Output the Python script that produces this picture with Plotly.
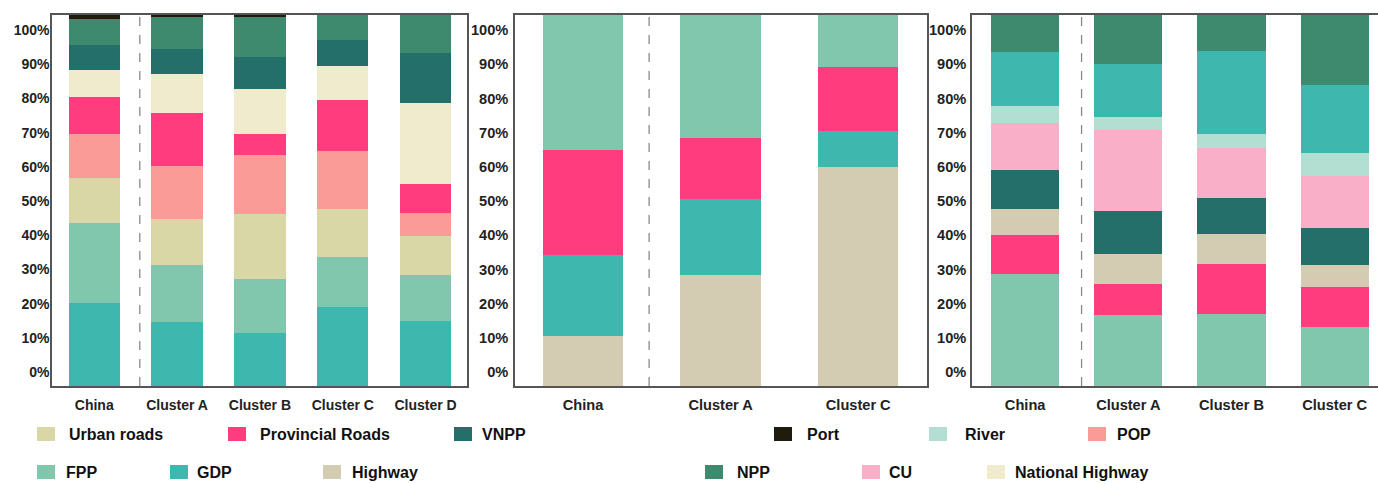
import plotly.graph_objects as go

# ---------------- data ----------------
p1_categories = ["China", "Cluster A", "Cluster B", "Cluster C", "Cluster D"]
p1_gdp = [22.3, 17.3, 14.4, 21.4, 17.5]
p1_fpp = [21.7, 15.2, 14.5, 13.4, 12.5]
p1_urban_roads = [12.2, 12.6, 17.5, 12.8, 10.5]
p1_pop = [11.8, 14.3, 15.8, 15.7, 6.1]
p1_provincial_roads = [9.8, 14.2, 5.8, 13.8, 7.8]
p1_national_highway = [7.3, 10.5, 12.0, 9.2, 21.8]
p1_vnpp = [6.7, 6.8, 8.7, 6.9, 13.5]
p1_npp = [7.2, 8.5, 10.9, 6.8, 10.3]
p1_port = [1.0, 0.6, 0.4, 0.0, 0.0]

p2_categories = ["China", "Cluster A", "Cluster C"]
p2_highway = [13.6, 30.0, 59.1]
p2_gdp = [21.7, 20.4, 9.6]
p2_provincial_roads = [28.3, 16.4, 17.3]
p2_fpp = [36.4, 33.2, 14.0]

p3_categories = ["China", "Cluster A", "Cluster B", "Cluster C"]
p3_fpp = [30.3, 19.2, 19.5, 16.0]
p3_provincial_roads = [10.5, 8.4, 13.4, 10.8]
p3_highway = [7.0, 7.9, 8.0, 5.8]
p3_vnpp = [10.4, 11.8, 9.8, 10.1]
p3_cu = [12.7, 21.6, 13.5, 13.8]
p3_river = [4.5, 3.5, 3.6, 6.3]
p3_gdp = [14.7, 14.4, 22.6, 18.3]
p3_npp = [9.9, 13.2, 9.6, 18.9]

tick_labels = ["0%", "10%", "20%", "30%", "40%", "50%", "60%", "70%", "80%", "90%", "100%"]

legend_row1 = ["Urban roads", "Provincial Roads", "VNPP", "Port", "River", "POP"]
legend_row2 = ["FPP", "GDP", "Highway", "NPP", "CU", "National Highway"]

colors = {
    "Urban roads": "#D9D7A5",
    "Provincial Roads": "#FF3C7D",
    "VNPP": "#246F69",
    "Port": "#1F1B0D",
    "River": "#B2DFD1",
    "POP": "#FA9B98",
    "FPP": "#80C7AE",
    "GDP": "#3EB8AF",
    "Highway": "#D4CBB3",
    "NPP": "#3E8A6F",
    "CU": "#FAAFC9",
    "National Highway": "#EFEBCC",
}

panels = [
    dict(cats=p1_categories, series=[
        ("GDP", p1_gdp), ("FPP", p1_fpp), ("Urban roads", p1_urban_roads), ("POP", p1_pop),
        ("Provincial Roads", p1_provincial_roads), ("National Highway", p1_national_highway),
        ("VNPP", p1_vnpp), ("NPP", p1_npp), ("Port", p1_port)],
        width=0.62, xrange=[-0.51, 4.5], dash_x=0.55, fs=14, dom=[52, 467], ystand=-2),
    dict(cats=p2_categories, series=[
        ("Highway", p2_highway), ("GDP", p2_gdp), ("Provincial Roads", p2_provincial_roads), ("FPP", p2_fpp)],
        width=0.585, xrange=[-0.495, 2.5], dash_x=0.48, fs=14.6, dom=[515, 927], ystand=2),
    dict(cats=p3_categories, series=[
        ("FPP", p3_fpp), ("Provincial Roads", p3_provincial_roads), ("Highway", p3_highway),
        ("VNPP", p3_vnpp), ("CU", p3_cu), ("River", p3_river), ("GDP", p3_gdp), ("NPP", p3_npp)],
        width=0.66, xrange=[-0.515, 3.42], dash_x=0.547, fs=14.6, dom=[972, 1378], ystand=1),
]

W, H = 1378, 483
plot_top, plot_bottom = 15, 386
ydom = [1 - plot_bottom / H, 1 - plot_top / H]
# label positions as drawn in the source figure (slightly offset from bar scale)
lab0_px, lab_step_px = 372.0, 34.2
tickvals = [(plot_bottom - (lab0_px - lab_step_px * k)) / (plot_bottom - plot_top) * 100 for k in range(len(tick_labels))]

fig = go.Figure()
tick_font_family = "Liberation Sans, Arial, sans-serif"

for i, p in enumerate(panels):
    ax = "" if i == 0 else str(i + 1)
    for name, vals in p["series"]:
        fig.add_trace(go.Bar(
            x=p["cats"], y=vals, name=name, marker=dict(color=colors[name], line=dict(width=0)),
            width=p["width"], xaxis="x" + ax, yaxis="y" + ax, showlegend=False,
            hovertemplate=name + ": %{y:.1f}%<extra></extra>"))
    xdom = [p["dom"][0] / W, min(1.0, p["dom"][1] / W)]
    last = (i == 2)
    fig.update_layout(**{
        "xaxis" + ax: dict(domain=xdom, range=p["xrange"], anchor="y" + ax, showgrid=False,
                           showline=True, mirror=True, linecolor="#555", linewidth=1.5,
                           ticks="", ticklabelstandoff=5,
                           tickfont=dict(family=tick_font_family, size=p["fs"], weight="bold", color="#222"),
                           fixedrange=True),
        "yaxis" + ax: dict(domain=ydom, range=[0, 100], anchor="x" + ax, showgrid=False, zeroline=False,
                           showline=True, mirror=(not last), linecolor="#555", linewidth=1.5,
                           ticks="", tickvals=tickvals, ticktext=tick_labels, ticklabelstandoff=p["ystand"],
                           tickfont=dict(family=tick_font_family, size=p["fs"], weight="bold", color="#222"),
                           fixedrange=True),
    })
    fig.add_shape(type="line", xref="x" + ax, yref="y" + ax + " domain" if ax else "y domain",
                  x0=p["dash_x"], x1=p["dash_x"], y0=0, y1=1,
                  line=dict(color="#8a8a8a", width=1.3, dash="dash"))

# ---------------- manual legend ----------------
row1_swatch_x = [37, 228, 454, 774, 929, 1088]
row1_text_x = [67, 258, 480, 805, 963, 1115]
row2_swatch_x = [37, 170, 323, 705, 862, 987]
row2_text_x = [64, 195, 350, 735, 887, 1013]
rows = [(legend_row1, row1_swatch_x, row1_text_x, 434),
        (legend_row2, row2_swatch_x, row2_text_x, 472)]
for names, sx, tx, yc in rows:
    for name, x0, xt in zip(names, sx, tx):
        fig.add_shape(type="rect", xref="paper", yref="paper",
                      x0=x0 / W, x1=(x0 + 18) / W, y0=1 - (yc + 7) / H, y1=1 - (yc - 7) / H,
                      fillcolor=colors[name], line=dict(width=0))
        fig.add_annotation(xref="paper", yref="paper", x=xt / W, y=1 - yc / H,
                           text=name, showarrow=False, xanchor="left", yanchor="middle",
                           font=dict(family="Liberation Sans, Arial, sans-serif",
                                     size=16, weight="bold", color="#111"))

fig.update_layout(
    width=W, height=H, margin=dict(l=0, r=0, t=0, b=0),
    barmode="stack", bargap=0,
    paper_bgcolor="white", plot_bgcolor="white",
    showlegend=False,
)

fig.write_html("out.html")
